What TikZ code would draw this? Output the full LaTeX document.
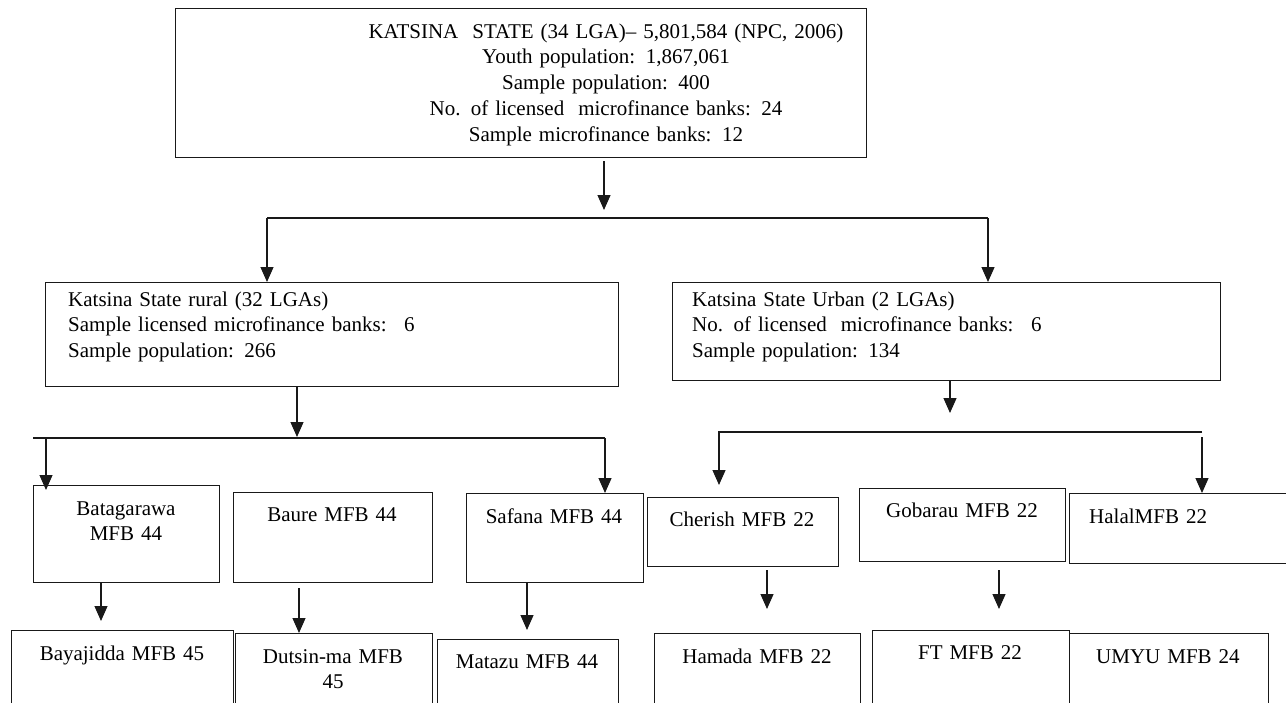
\documentclass[tikz,border=0pt]{standalone}
\usepackage{fontspec}
\setmainfont{Liberation Serif}
\usetikzlibrary{arrows.meta, positioning}

\begin{document}
\begin{tikzpicture}[x=1pt, y=-1pt,
    box/.style={rectangle, draw=black!90, line width=1.4pt, anchor=north west, inner sep=0pt},
    txt/.style={font=\fontsize{21}{25}\selectfont, inner sep=0pt, anchor=base, text width=260pt, align=center},
    ltxt/.style={txt, anchor=base west, text width=540pt, align=left, font=\fontsize{21}{25.5}\selectfont},
    arrow/.style={-{Triangle[length=15pt, width=13pt]}, line width=1.2pt, draw=black!90},
    link/.style={line width=1.2pt, draw=black!90},
  ]
  \path[use as bounding box, fill=white] (0,0) rectangle (1286,702);

  % State level
  \node[box, minimum width=691pt, minimum height=149pt] (state) at (175,8) {};
  \node[txt, text width=560pt, font=\fontsize{21}{25.75}\selectfont] (statetxt) at (606,38)
    {KATSINA~ STATE (34 LGA)– 5,801,584 (NPC, 2006)\\Youth population: 1,867,061\\Sample population: 400\\No. of licensed~ microfinance banks: 24\\Sample microfinance banks: 12};

  % Rural and urban
  \node[box, minimum width=573pt, minimum height=104pt] (rural) at (45,282) {};
  \node[ltxt] (ruraltxt) at (68,306)
    {Katsina State rural (32 LGAs)\\Sample licensed microfinance banks:~ 6\\Sample population: 266};
  \node[box, minimum width=548pt, minimum height=98pt] (urban) at (672,282) {};
  \node[ltxt] (urbantxt) at (692,306)
    {Katsina State Urban (2 LGAs)\\No. of licensed~ microfinance banks:~ 6\\Sample population: 134};

  % First row of banks
  \node[box, minimum width=186pt, minimum height=97pt] (bata) at (33,485) {};
  \node[txt] (batatxt) at (126,515) {Batagarawa\\MFB 44};
  \node[box, minimum width=199pt, minimum height=90pt] (baure) at (233,492) {};
  \node[txt] (bauretxt) at (332,521) {Baure MFB 44};
  \node[box, minimum width=177pt, minimum height=89pt] (safana) at (466,493) {};
  \node[txt] (safanatxt) at (554,523) {Safana MFB 44};
  \node[box, minimum width=191pt, minimum height=69pt] (cherish) at (647,497) {};
  \node[txt] (cherishtxt) at (742,526) {Cherish MFB 22};
  \node[box, minimum width=206pt, minimum height=73pt] (gobarau) at (859,488) {};
  \node[txt] (gobarautxt) at (962,517) {Gobarau MFB 22};
  \node[box, minimum width=230pt, minimum height=70pt] (halal) at (1069,493) {};
  \node[ltxt] (halaltxt) at (1089,523) {HalalMFB 22};

  % Second row of banks
  \node[box, minimum width=222pt, minimum height=90pt] (bayajidda) at (11,630) {};
  \node[txt] (bayajiddatxt) at (122,660) {Bayajidda MFB 45};
  \node[box, minimum width=197pt, minimum height=90pt] (dutsin) at (235,633) {};
  \node[txt] (dutsintxt) at (333,663) {Dutsin-ma MFB\\45};
  \node[box, minimum width=181pt, minimum height=90pt] (matazu) at (437,639) {};
  \node[txt] (matazutxt) at (527,668) {Matazu MFB 44};
  \node[box, minimum width=206pt, minimum height=90pt] (hamada) at (654,633) {};
  \node[txt] (hamadatxt) at (757,663) {Hamada MFB 22};
  \node[box, minimum width=197pt, minimum height=90pt] (ft) at (872,630) {};
  \node[txt] (fttxt) at (970,659) {FT MFB 22};
  \node[box, minimum width=199pt, minimum height=90pt] (umyu) at (1069,633) {};
  \node[txt] (umyutxt) at (1168,663) {UMYU MFB 24};

  % Split points
  \coordinate (stateTip) at (604,210);
  \coordinate (barL) at (267,218);
  \coordinate (barR) at (988,218);
  \coordinate (ruralTip) at (297,437);
  \coordinate (ruralBarL) at (33,438);
  \coordinate (ruralBarR) at (605,438);
  \coordinate (bataCol) at (46,0);
  \coordinate (urbanTip) at (950,413);
  \coordinate (urbanBarL) at (719,432);
  \coordinate (urbanBarR) at (1202,432);
  \coordinate (bayCol) at (101,0);
  \coordinate (dutCol) at (299,0);
  \coordinate (matCol) at (527,0);
  \coordinate (hamCol) at (767,0);
  \coordinate (ftCol) at (999,0);

  % State to rural / urban
  \draw[arrow, shorten <=3pt] (state.south -| stateTip) -- (stateTip);
  \draw[link] (barL) -- (barR);
  \draw[arrow] (barL) -- (barL |- rural.north);
  \draw[arrow] (barR) -- (barR |- urban.north);

  % Rural to banks
  \draw[arrow] (rural.south -| ruralTip) -- (ruralTip);
  \draw[link] (ruralBarL) -- (ruralBarR);
  \draw[arrow] (ruralBarL -| bataCol) -- ([yshift=-5pt]bata.north -| bataCol);
  \draw[arrow] (ruralBarR) -- (ruralBarR |- safana.north);

  % Urban to banks
  \draw[arrow] (urban.south -| urbanTip) -- (urbanTip);
  \draw[arrow, shorten >=12pt] (urbanBarR) -| (urbanBarL |- cherish.north);
  \draw[arrow, shorten <=5pt] (urbanBarR) -- (urbanBarR |- halal.north);

  % Banks to banks
  \draw[arrow, shorten >=9pt] (bata.south -| bayCol) -- (bayajidda.north -| bayCol);
  \draw[arrow, shorten <=5pt] (baure.south -| dutCol) -- (dutsin.north -| dutCol);
  \draw[arrow, shorten >=9pt] (safana.south -| matCol) -- (matazu.north -| matCol);
  \draw[arrow, shorten <=3pt, shorten >=24pt] (cherish.south -| hamCol) -- (hamada.north -| hamCol);
  \draw[arrow, shorten <=8pt, shorten >=21pt] (gobarau.south -| ftCol) -- (ft.north -| ftCol);
\end{tikzpicture}
\end{document}
